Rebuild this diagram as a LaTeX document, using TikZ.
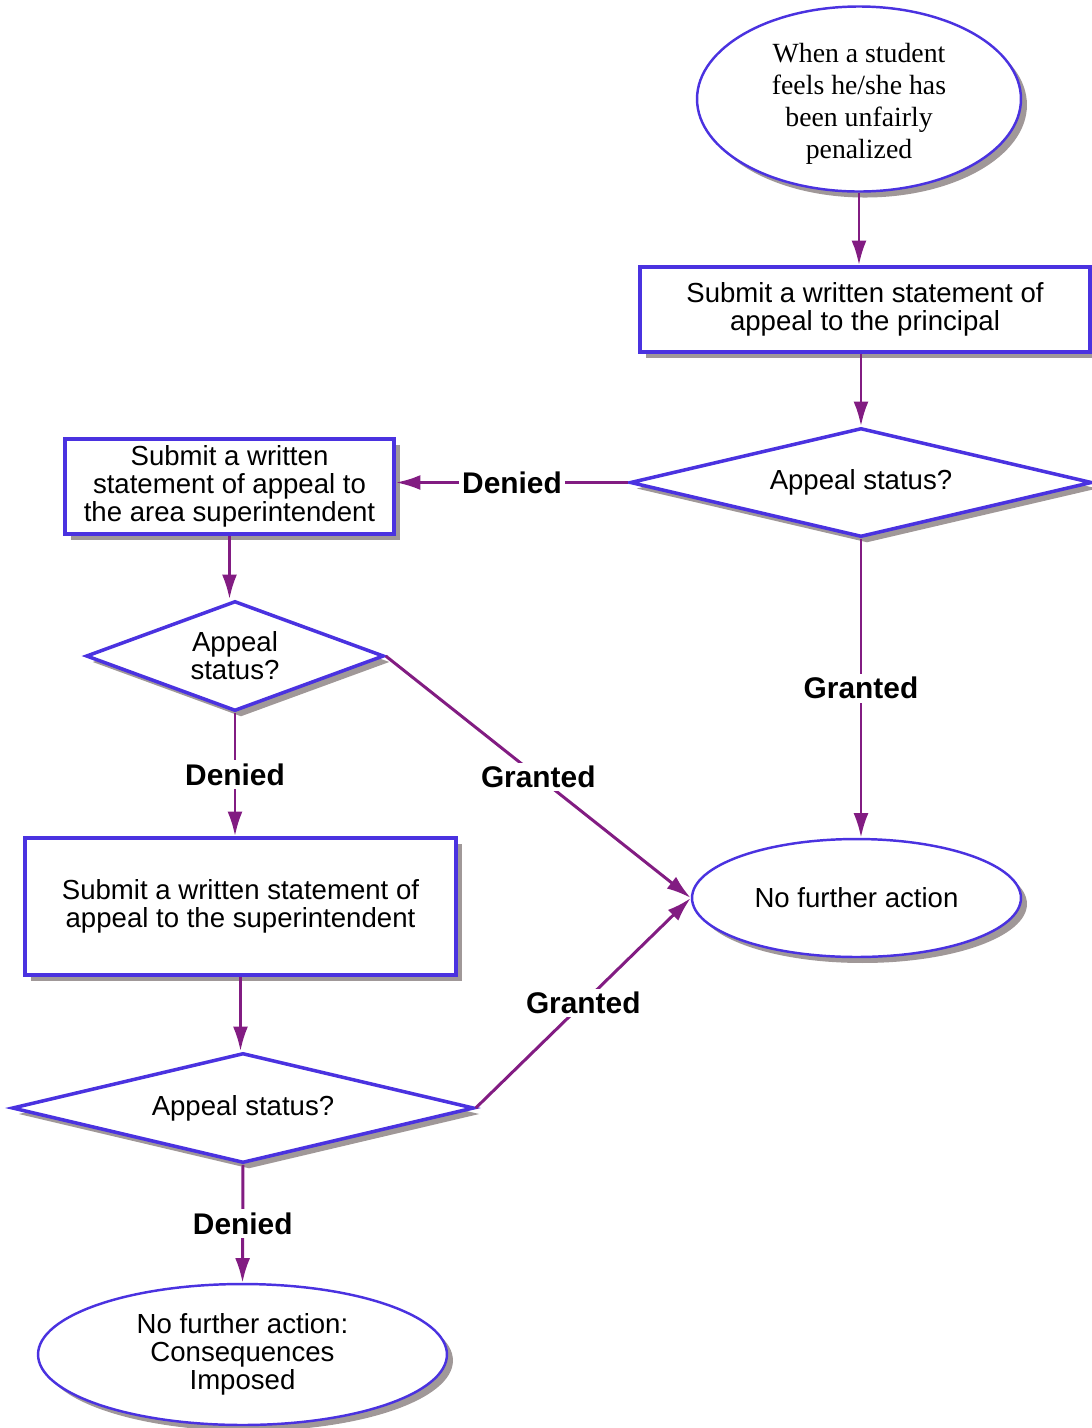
\documentclass[tikz,border=0pt]{standalone}
\usepackage{fontspec}
\setmainfont{Liberation Serif}
\setsansfont{Liberation Sans}
\usetikzlibrary{shapes.geometric,shadows,arrows.meta}
\definecolor{boxblue}{RGB}{74,50,224}
\definecolor{flowpurple}{RGB}{130,28,130}
\definecolor{shadowgray}{RGB}{160,152,152}
\tikzstyle{base}=[draw=boxblue, fill=white, align=center, text=black, inner sep=0pt, font=\sffamily\fontsize{15.7}{16}\selectfont, drop shadow={shadow xshift=0.12cm, shadow yshift=-0.12cm, fill=shadowgray, opacity=1}]
\tikzstyle{stepbox}=[base, rectangle, line width=2pt]
\tikzstyle{decision}=[base, diamond, aspect=2.7, line width=2pt]
\tikzstyle{terminal}=[base, ellipse, line width=1.4pt]
\tikzstyle{flow}=[draw=flowpurple, line width=1.7pt, -{Latex[length=14pt,width=8.5pt]}]
\tikzstyle{answer}=[fill=white, text=black, inner sep=2pt, font=\sffamily\bfseries\fontsize{17}{17}\selectfont]

\begin{document}
\begin{tikzpicture}[x=0.02cm, y=-0.02cm]
    \useasboundingbox (0,0) rectangle (1092,1428);

    \node (start) at (859, 99) [terminal, minimum width=6.48cm, minimum height=3.64cm, font=\rmfamily\fontsize{15.8}{18.2}\selectfont] {\rule{0pt}{16.5pt}When a student\\feels he/she has\\been unfairly\\penalized};
    \node (principal) at (865, 309.5) [stepbox, minimum width=9cm, minimum height=1.7cm] {Submit a written statement of\\appeal to the principal};
    \node (status1) at (861, 482.5) [decision, minimum width=9.24cm, minimum height=2.18cm] {Appeal status?};
    \node (area) at (229.5, 486.5) [stepbox, minimum width=6.58cm, minimum height=1.9cm] {Submit a written\\statement of appeal to\\the area superintendent};
    \node (status2) at (235, 656) [decision, minimum width=5.96cm, minimum height=2.2cm] {Appeal\\status?};
    \node (super) at (240.5, 906.5) [stepbox, minimum width=8.62cm, minimum height=2.74cm] {Submit a written statement of\\appeal to the superintendent};
    \node (status3) at (243, 1108) [decision, minimum width=9.24cm, minimum height=2.2cm] {Appeal status?};
    \node (nfa) at (856.5, 898) [terminal, minimum width=6.58cm, minimum height=2.36cm] {No further action};
    \node (imposed) at (242.5, 1354.5) [terminal, minimum width=8.18cm, minimum height=2.82cm] {No further action:\\Consequences\\Imposed};

    \draw (start.south) -- (start.south |- principal.north) [flow];
    \draw (status1.north |- principal.south) -- (status1.north) [flow];

    \draw (status1.west) -- node[answer] {Denied} (status1.west -| area.east) [flow];
    \draw (status1.south) -- node[answer] {Granted} (status1.south |- nfa.north) [flow];

    \draw (area.south) -- (area.south |- status2.north) [flow];

    \draw (status2.south) -- node[answer] {Denied} (status2.south |- super.north) [flow];
    \draw (status2.east) -- node[answer] {Granted} (nfa.west) [flow];

    \draw (super.south) -- (super.south |- status3.north) [flow];

    \draw (status3.east) -- node[answer] {Granted} (nfa.west) [flow];
    \draw (status3.south) -- node[answer] {Denied} (imposed.north) [flow];
\end{tikzpicture}
\end{document}
